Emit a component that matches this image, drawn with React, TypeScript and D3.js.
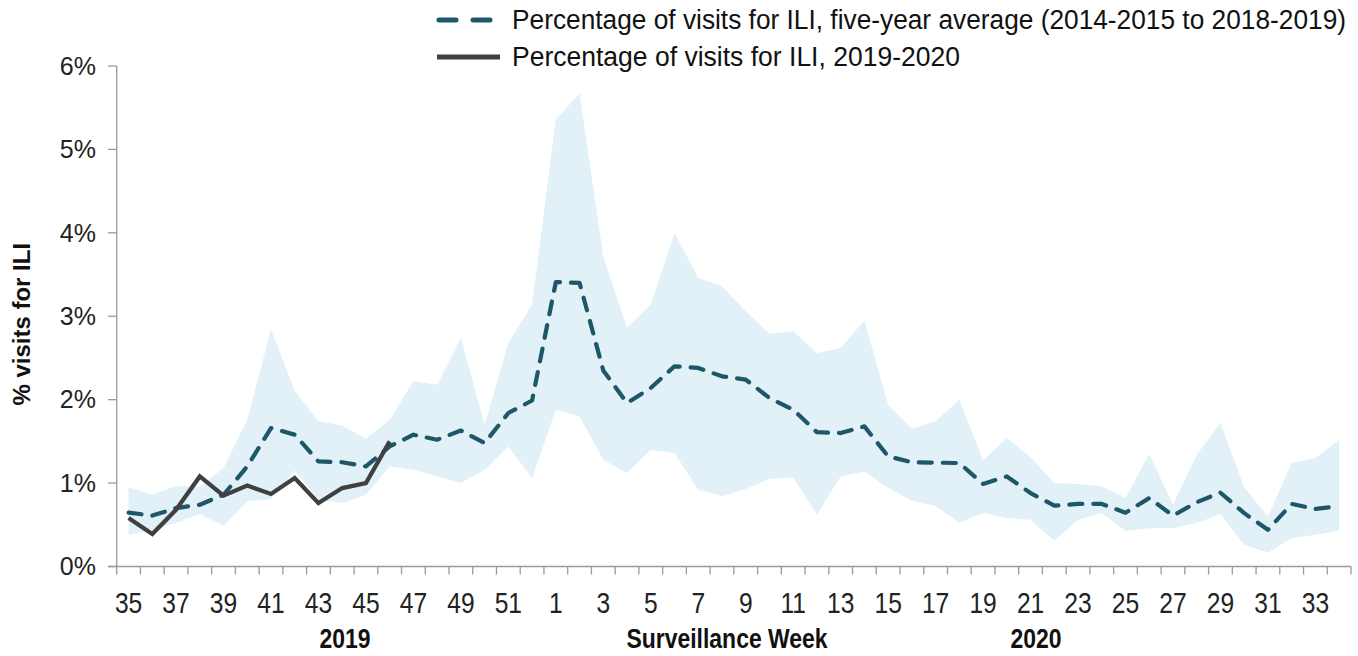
import React from "react";
import * as d3 from "d3";

const weeks = [35, 36, 37, 38, 39, 40, 41, 42, 43, 44, 45, 46, 47, 48, 49, 50, 51, 52,
  1, 2, 3, 4, 5, 6, 7, 8, 9, 10, 11, 12, 13, 14, 15, 16, 17, 18, 19, 20, 21, 22, 23, 24,
  25, 26, 27, 28, 29, 30, 31, 32, 33, 34];

const avgValues = [0.645, 0.61, 0.7, 0.74, 0.86, 1.2, 1.66, 1.58, 1.26, 1.25, 1.2, 1.44, 1.58, 1.52, 1.63, 1.48, 1.84, 1.99,
  3.41, 3.4, 2.35, 1.96, 2.14, 2.4, 2.38, 2.28, 2.24, 2.02, 1.88, 1.61, 1.6, 1.68, 1.32, 1.25, 1.245, 1.24, 0.99, 1.08,
  0.88, 0.73, 0.75, 0.75, 0.645, 0.82, 0.61, 0.77, 0.885, 0.64, 0.44, 0.75, 0.69, 0.725];

const upperValues = [0.95, 0.86, 0.965, 0.96, 1.18, 1.76, 2.84, 2.11, 1.74, 1.69, 1.53, 1.76, 2.22, 2.18, 2.74, 1.7, 2.68, 3.14,
  5.36, 5.67, 3.71, 2.86, 3.14, 4.0, 3.46, 3.36, 3.06, 2.79, 2.82, 2.56, 2.62, 2.95, 1.94, 1.65, 1.74, 2.0, 1.27, 1.54,
  1.31, 1.0, 0.99, 0.96, 0.825, 1.35, 0.74, 1.34, 1.72, 0.95, 0.6, 1.24, 1.3, 1.52];

const lowerValues = [0.38, 0.44, 0.52, 0.63, 0.49, 0.78, 0.81, 1.15, 0.8, 0.76, 0.86, 1.2, 1.16, 1.08, 1.0, 1.16, 1.44, 1.06,
  1.88, 1.8, 1.28, 1.12, 1.4, 1.36, 0.92, 0.845, 0.93, 1.05, 1.07, 0.62, 1.08, 1.14, 0.94, 0.79, 0.725, 0.525, 0.64, 0.58,
  0.56, 0.31, 0.56, 0.64, 0.425, 0.46, 0.46, 0.52, 0.625, 0.26, 0.165, 0.34, 0.38, 0.43];

const currentValues = [0.58, 0.39, 0.68, 1.08, 0.85, 0.97, 0.87, 1.06, 0.76, 0.94, 1.0, 1.5];

const yTicks = [0, 1, 2, 3, 4, 5, 6];
const legendLabels = [
  "Percentage of visits for ILI, five-year average (2014-2015 to 2018-2019)",
  "Percentage of visits for ILI, 2019-2020",
];
const xTitle = "Surveillance Week";
const yTitle = "% visits for ILI";
const yearLabels = ["2019", "2020"];

const W = 1358;
const H = 656;
const TEAL = "#1e5767";
const GREY = "#404040";
const BAND = "#e1f1f7";
const AXIS = "#9a9a9a";
const FONT = "'Liberation Sans', Arial, sans-serif";
const LEG_SX = 0.85;

export default function App() {
  const x = d3.scaleBand<number>().domain(weeks).range([116.7, 1351]).paddingInner(0).paddingOuter(0);
  const y = d3.scaleLinear().domain([0, 6]).range([566.5, 66]);
  const cx = (w: number) => (x(w) as number) + x.bandwidth() / 2;

  const area = d3
    .area<number>()
    .x((_, i) => cx(weeks[i]))
    .y0((_, i) => y(lowerValues[i]))
    .y1((_, i) => y(upperValues[i]));
  const line = d3
    .line<number>()
    .x((_, i) => cx(weeks[i]))
    .y((d) => y(d));

  const boundaries = weeks.map((w) => x(w) as number).concat([x.range()[1]]);
  const narrow = (tx: number, ty: number) => `translate(${tx},${ty}) scale(0.82,1)`;

  return (
    <svg width={W} height={H} style={{ position: "absolute", left: 0, top: 0, background: "#fff" }}>
      <path d={area(avgValues) || ""} fill={BAND} stroke="none" />
      {/* axes */}
      <line x1={116.7} x2={116.7} y1={y(6)} y2={y(0)} stroke={AXIS} strokeWidth={1.3} />
      <line x1={108} x2={1351} y1={y(0)} y2={y(0)} stroke={AXIS} strokeWidth={1.3} />
      {yTicks.map((t) => (
        <g key={t}>
          <line x1={108} x2={116.7} y1={y(t)} y2={y(t)} stroke={AXIS} strokeWidth={1.3} />
          <text x={96} y={y(t)} dy="0.35em" textAnchor="end" fontSize={25} fontFamily={FONT} fill="#222">
            {t}%
          </text>
        </g>
      ))}
      {boundaries.map((b, i) => (
        <line key={i} x1={b} x2={b} y1={y(0)} y2={y(0) + 8} stroke={AXIS} strokeWidth={1.3} />
      ))}
      {weeks.map((w, i) =>
        i % 2 === 0 ? (
          <text key={w} transform={narrow(cx(w), 613)} textAnchor="middle" fontSize={30} fontFamily={FONT} fill="#222">
            {w}
          </text>
        ) : null
      )}
      <text transform={narrow(345, 648)} textAnchor="middle" fontSize={28} fontWeight="bold" fontFamily={FONT} fill="#111">
        {yearLabels[0]}
      </text>
      <text transform={narrow(727, 648)} textAnchor="middle" fontSize={28} fontWeight="bold" fontFamily={FONT} fill="#111">
        {xTitle}
      </text>
      <text transform={narrow(1036, 648)} textAnchor="middle" fontSize={28} fontWeight="bold" fontFamily={FONT} fill="#111">
        {yearLabels[1]}
      </text>
      <text
        transform={`translate(30,${y(3) + 8}) rotate(-90)`}
        textAnchor="middle"
        fontSize={24}
        fontWeight="bold"
        fontFamily={FONT}
        fill="#111"
      >
        {yTitle}
      </text>
      {/* series */}
      <path
        d={line(avgValues) || ""}
        fill="none"
        stroke={TEAL}
        strokeWidth={4.2}
        strokeDasharray="13 11"
        strokeLinecap="round"
        strokeLinejoin="round"
      />
      <path d={line(currentValues) || ""} fill="none" stroke={GREY} strokeWidth={4.2} strokeLinejoin="miter" />
      {/* legend */}
      <line x1={439} x2={490} y1={20} y2={20} stroke={TEAL} strokeWidth={5} strokeDasharray="17 17" strokeLinecap="round" />
      <text
        transform={`translate(512,29) scale(${LEG_SX},1)`}
        fontSize={27}
        fontFamily={FONT}
        fill="#111"
        textLength={834 / LEG_SX}
        lengthAdjust="spacingAndGlyphs"
      >
        {legendLabels[0]}
      </text>
      <line x1={437} x2={500} y1={57} y2={57} stroke={GREY} strokeWidth={5} />
      <text
        transform={`translate(512,66) scale(${LEG_SX},1)`}
        fontSize={27}
        fontFamily={FONT}
        fill="#111"
        textLength={448 / LEG_SX}
        lengthAdjust="spacingAndGlyphs"
      >
        {legendLabels[1]}
      </text>
    </svg>
  );
}
